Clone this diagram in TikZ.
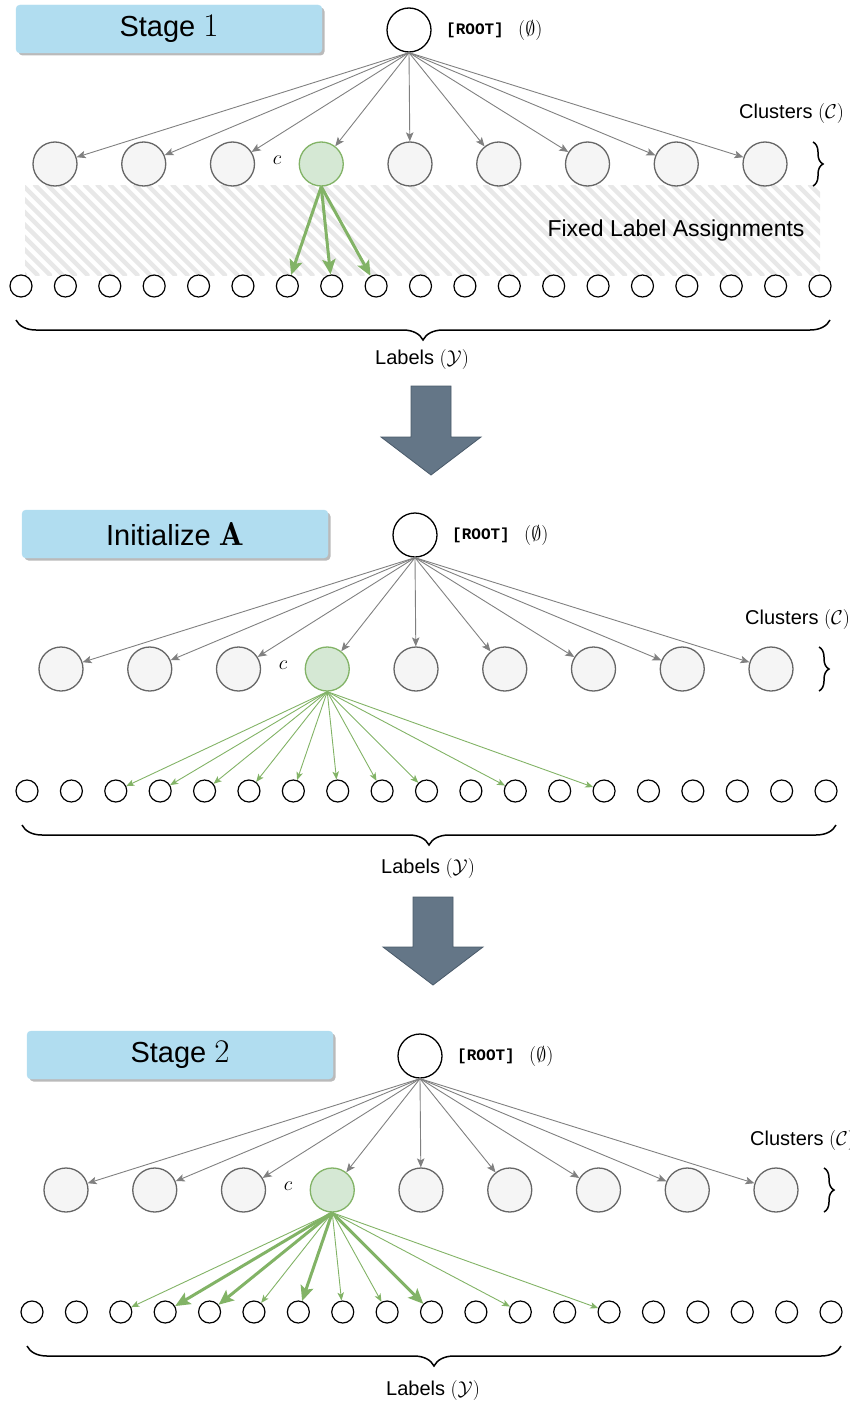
\RequirePackage{fix-cm}
\documentclass[tikz,border=0pt]{standalone}
\usepackage{fontspec}
\usetikzlibrary{arrows.meta,decorations.pathreplacing,shadows}
\newfontfamily\sfont{Liberation Sans}
\newfontfamily\monofont{Liberation Mono}
\definecolor{boxblue}{HTML}{B1DDF0}
\definecolor{gfill}{HTML}{D5E8D4}
\definecolor{gline}{HTML}{82B366}
\definecolor{cfill}{HTML}{F5F5F5}
\definecolor{cline}{HTML}{666666}
\definecolor{arrowc}{HTML}{808080}
\definecolor{bigarrow}{HTML}{647687}
\definecolor{bigarrowline}{HTML}{4A5A6A}
\definecolor{hatchc}{HTML}{E8E8E8}
\newcommand\bigmath[1]{{\fontsize{33}{36}\selectfont$#1$}}
\tikzset{
  titlebox/.style={fill=boxblue, draw=boxblue, rounded corners=4pt, minimum width=306pt, minimum height=48pt,
     font=\fontsize{29}{34}\sfont, drop shadow={shadow xshift=2.5pt, shadow yshift=-2.5pt, fill=black!45, opacity=0.6}},
  rootnode/.style={circle, draw=black, fill=white, line width=1.3pt, minimum size=44pt, inner sep=0pt},
  cluster/.style={circle, draw=cline, fill=cfill, line width=1.3pt, minimum size=44pt, inner sep=0pt},
  ccluster/.style={circle, draw=gline, fill=gfill, line width=1.3pt, minimum size=44pt, inner sep=0pt},
  labnode/.style={circle, draw=black, fill=white, line width=1.2pt, minimum size=22pt, inner sep=0pt},
  sans/.style={font=\fontsize{20}{24}\sfont, inner sep=0pt},
  mathtext/.style={font=\fontsize{20}{24}\selectfont, inner sep=0pt},
  roottext/.style={font=\fontsize{16}{18}\monofont\bfseries, inner sep=0pt},
  grayarrow/.style={draw=arrowc, line width=0.9pt, -{Stealth[length=9pt,width=7.5pt,inset=2pt]}},
  thinarrow/.style={draw=gline, line width=0.9pt, -{Stealth[length=8pt,width=6.5pt,inset=2pt]}},
  thickarrow/.style={draw=gline, line width=3pt, -{Stealth[length=15pt,width=13pt,inset=3pt]}},
  bigbrace/.style={draw=black, line width=1.5pt, decorate, decoration={brace, amplitude=20pt}},
  smallbrace/.style={draw=black, line width=1.5pt, decorate, decoration={brace, amplitude=10pt}},
  bigarrowshape/.style={fill=bigarrow, draw=bigarrowline, line width=0.8pt},
}
\newcommand\drawstage[5]{%
\begin{scope}[shift={(#2,#3)}]
  \node[titlebox] (#1title) at (169,29) {#4};
  \node[rootnode] (#1root) at (409,30) {};
  \node[roottext, anchor=west] (#1rt) at (446,30) {[ROOT]};
  \node[mathtext, anchor=west] (#1empty) at (518,30) {$(\emptyset)$};
  \node[sans, anchor=west] (#1clabel) at (739,114) {Clusters $(\mathcal{C})$};
  \node[mathtext] (#1cname) at (277,160) {$c$};
  \foreach \i/\st in {1/cluster,2/cluster,3/cluster,4/ccluster,5/cluster,6/cluster,7/cluster,8/cluster,9/cluster}
    \node[\st] (#1k\i) at ({55+88.75*(\i-1)},164) {};
  \foreach \i in {1,...,19}
    \node[labnode] (#1l\i) at ({21+44.39*(\i-1)},286) {};
  \foreach \i in {1,...,9}
    \draw[grayarrow] (#1root.south) -- (#1k\i);
  \coordinate (#1cb1) at (813,142);
  \coordinate (#1cb2) at (813,186);
  \draw[smallbrace] (#1cb1) -- (#1cb2);
  \coordinate (#1lb1) at (830,320);
  \coordinate (#1lb2) at (16,320);
  \draw[bigbrace] (#1lb1) -- (#1lb2);
  \node[sans] (#1ltext) at (422,#5) {Labels $(\mathcal{Y})$};
\end{scope}}
\begin{document}
\begin{tikzpicture}[x=1pt,y=-1pt]
\useasboundingbox (0,0) rectangle (849,1405);
% hatched region (stage 1)
\begin{scope}
  \clip (25,185) rectangle (820,275);
  \foreach \x in {-90,-77.5,...,830}
    \draw[hatchc, line width=4.5pt, line cap=round] (\x,185) -- ++(90,90);
\end{scope}
\node[font=\fontsize{23}{27}\sfont, inner sep=0pt] (fixed) at (676,231) {Fixed Label Assignments};

\drawstage{a}{0}{0}{Stage \bigmath{1}}{359}
\drawstage{b}{6}{505}{Initialize \bigmath{\mathbf{A}}}{363}
\drawstage{d}{11}{1026}{Stage \bigmath{2}}{364}

% stage 1 arrows
\foreach \j in {7,8,9}
  \draw[thickarrow] (ak4.south) -- (al\j);
% initialize arrows
\foreach \j in {3,4,5,6,7,8,9,10,12,14}
  \draw[thinarrow] (bk4.south) -- (bl\j);
% stage 2 arrows
\foreach \j in {3,6,8,9,12,14}
  \draw[thinarrow] (dk4.south) -- (dl\j);
\foreach \j in {4,5,7,10}
  \draw[thickarrow] (dk4.south) -- (dl\j);

% big arrows
\fill[bigarrowshape] (411,386) -- (451,386) -- (451,437) -- (481,437) -- (431,475) -- (381,437) -- (411,437) -- cycle;
\fill[bigarrowshape] (413,897) -- (453,897) -- (453,947) -- (483,947) -- (433,985) -- (383,947) -- (413,947) -- cycle;
\end{tikzpicture}
\end{document}
